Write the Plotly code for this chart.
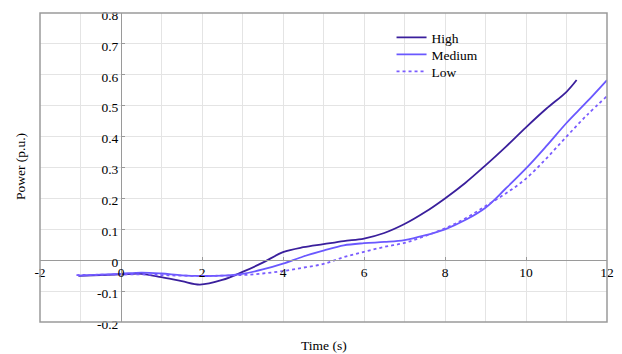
import plotly.graph_objects as go

t_high = [-1.05, -0.5, 0, 0.5, 1, 1.5, 1.95, 2.5, 3, 3.5, 4, 4.5, 5, 5.5, 6, 6.5, 7, 7.5, 8, 8.5, 9, 9.5, 10, 10.5, 11, 11.25]
p_high = [-0.051, -0.048, -0.046, -0.044, -0.055, -0.068, -0.079, -0.064, -0.038, -0.008, 0.026, 0.042, 0.052, 0.062, 0.070, 0.088, 0.117, 0.155, 0.200, 0.250, 0.307, 0.367, 0.430, 0.490, 0.545, 0.583]

t_med = [-1.05, -0.5, 0, 0.5, 1, 1.5, 2, 2.5, 3, 3.5, 4, 4.5, 5, 5.5, 6, 6.5, 7, 7.5, 8, 8.5, 9, 9.5, 10, 10.5, 11, 11.5, 12]
p_med = [-0.050, -0.047, -0.044, -0.040, -0.043, -0.049, -0.051, -0.050, -0.044, -0.030, -0.011, 0.012, 0.031, 0.048, 0.055, 0.059, 0.065, 0.080, 0.100, 0.130, 0.170, 0.232, 0.297, 0.369, 0.444, 0.512, 0.583]

t_low = [-1.1, -0.5, 0, 0.5, 1, 1.5, 2, 2.5, 3, 3.5, 4, 4.5, 5, 5.5, 6, 6.5, 7, 7.5, 8, 8.5, 9, 9.5, 10, 10.5, 11, 11.5, 12]
p_low = [-0.048, -0.047, -0.046, -0.046, -0.048, -0.050, -0.051, -0.050, -0.048, -0.043, -0.035, -0.024, -0.012, 0.010, 0.027, 0.043, 0.056, 0.078, 0.103, 0.135, 0.175, 0.216, 0.264, 0.329, 0.400, 0.469, 0.531]

x_ticks = [-2, 0, 2, 4, 6, 8, 10, 12]
x_labels = ["-2", "0", "2", "4", "6", "8", "10", "12"]
y_ticks = [-0.2, -0.1, 0, 0.1, 0.2, 0.3, 0.4, 0.5, 0.6, 0.7, 0.8]
y_labels = ["-0.2", "-0.1", "0", "0.1", "0.2", "0.3", "0.4", "0.5", "0.6", "0.7", "0.8"]

font = dict(family="Liberation Serif", size=13.5, color="black")

# page body has an 8px margin: figure sized/offset to compensate
W, H = 614, 346
L, R, T, B = 32, 15, 5, 32
PH = H - T - B

fig = go.Figure()
fig.add_trace(go.Scatter(x=t_high, y=p_high, name="High", mode="lines", legend="legend",
                         line=dict(color="#3a1f9c", width=1.8, shape="spline")))
fig.add_trace(go.Scatter(x=t_med, y=p_med, name="Medium", mode="lines", legend="legend2",
                         line=dict(color="#6a58ff", width=1.8, shape="spline")))
fig.add_trace(go.Scatter(x=t_low, y=p_low, name="Low", mode="lines", legend="legend3",
                         line=dict(color="#7a5cff", width=1.8, dash="3px,3px", shape="spline")))

def leg(top_fig_y):
    return dict(x=0.62, y=1 - (top_fig_y - T) / PH, xanchor="left", yanchor="top",
                bgcolor="rgba(255,255,255,0)", font=font)

fig.update_layout(
    width=W, height=H,
    margin=dict(l=L, r=R, t=T, b=B, autoexpand=False),
    paper_bgcolor="white", plot_bgcolor="white",
    font=font,
    showlegend=True,
    legend=leg(14), legend2=leg(31), legend3=leg(48),
    xaxis=dict(range=[-2, 12], tickvals=x_ticks, ticktext=x_labels, automargin=False,
               anchor="free", position=0.2, showline=True, linecolor="#9a9a9a", linewidth=1,
               ticks="inside", ticklen=3, tickcolor="#9a9a9a", ticklabeloverflow="allow",
               showgrid=True, gridcolor="#e4e4e4", gridwidth=1,
               minor=dict(dtick=1, showgrid=True, gridcolor="#e4e4e4"),
               zeroline=False, tickfont=font),
    yaxis=dict(range=[-0.2, 0.8], tickvals=y_ticks, ticktext=y_labels, automargin=False,
               anchor="free", position=1/7, showline=True, linecolor="#9a9a9a", linewidth=1,
               ticks="inside", ticklen=3, tickcolor="#9a9a9a", ticklabeloverflow="allow",
               ticklabelshift=2,
               showgrid=True, gridcolor="#e4e4e4", gridwidth=1,
               zeroline=False, tickfont=font),
    shapes=[dict(type="rect", xref="paper", yref="paper", x0=0, x1=1, y0=0, y1=1,
                 line=dict(color="#9a9a9a", width=1.5), fillcolor="rgba(0,0,0,0)", layer="above")],
    annotations=[
        dict(text="Time (s)", xref="paper", yref="paper", x=(324 - 40) / 567, y=-(345 - 322) / PH,
             yanchor="middle", xanchor="center", showarrow=False, font=font),
        dict(text="Power (p.u.)", xref="paper", yref="paper", x=-(40 - 20) / 567, y=(322 - 167) / PH,
             xanchor="center", yanchor="middle", textangle=-90, showarrow=False, font=font),
    ],
)
fig.write_html("out.html")
